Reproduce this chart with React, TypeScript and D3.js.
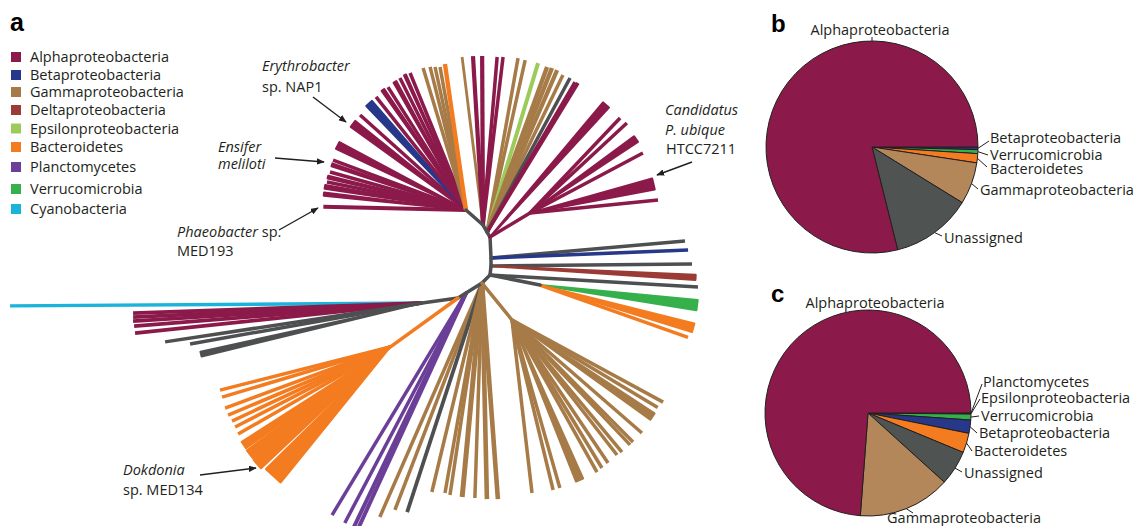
import React from "react";
import * as d3 from "d3";

// ---------- legend / taxa ----------
const taxa = [
  "Alphaproteobacteria",
  "Betaproteobacteria",
  "Gammaproteobacteria",
  "Deltaproteobacteria",
  "Epsilonproteobacteria",
  "Bacteroidetes",
  "Planctomycetes",
  "Verrucomicrobia",
  "Cyanobacteria",
];
const taxonCodes = ["A", "B", "G", "D", "E", "Ba", "P", "V", "C"];
const taxonColors = ["#8b1a4b", "#27378a", "#a67b47", "#9b3b36", "#9dcb5b", "#f47c20", "#6b3f98", "#35b04b", "#1ab3d9"];
const unassignedColor = "#4d4f50";
const pieGammaColor = "#b4875a";
const pieUnassignedColor = "#4f5452";

// ---------- tree (radial, unrooted) ----------
// node rows: [id, parent, direction (deg, clockwise from east), branch length, branch taxon]
type NodeRow = [string, string, number, number, string];
const treeNodes: NodeRow[] = [
  ["n2", "n1", 41.4, 22.7, "U"],
  ["n3", "n2", 60.3, 8.1, "U"],
  ["n4", "n3", 59, 5.8, "U"],
  ["n5", "n4", 87.3, 21, "U"],
  ["n6", "n5", 90, 8, "U"],
  ["n7", "n6", 96.3, 9.1, "U"],
  ["n8", "n7", 135, 11.3, "U"],
  ["n9", "n8", 148, 18.9, "U"],
  ["n10", "n9", 148, 9.4, "U"],
  ["n11", "n10", 172.1, 36.3, "U"],
  ["s1", "n4", 329, 46.6, "A"],
  ["v1", "n7", 11.3, 51, "U"],
  ["g2", "n8", 51, 47.6, "G"],
  ["o1", "n10", 144.2, 83.8, "Ba"],
];

// leaf rows: [taxon, direction (deg), branch length, wedge spread (deg), width]
type Leaf = [string, number, number, number?, number?];
const leavesN1: Leaf[] = [
  ["A", 181.3, 142.7, 0, 4.2],
  ["A", 186.4, 142.9, 1.2],
  ["A", 189.3, 142.9, 1.5],
  ["A", 191.4, 141.8],
  ["A", 193.4, 141.9, 1],
  ["A", 195.6, 141.2],
  ["A", 198.6, 141.4, 1.2],
  ["A", 200.6, 142],
  ["A", 206.7, 143.6, 3],
  ["A", 217.3, 142, 3],
  ["A", 221.9, 142.3],
  ["B", 227.7, 144, 3],
  ["A", 231.5, 144.5],
  ["A", 235.3, 145.9, 1.2],
  ["A", 237.6, 145.6],
  ["A", 241, 146.4, 1.2],
  ["A", 243.4, 147.6],
  ["A", 245.7, 148.1, 0.8],
  ["A", 247.8, 148],
  ["G", 253.2, 148.4],
  ["G", 255.9, 147.5],
  ["G", 257.8, 146.3],
  ["G", 259.7, 145.3],
  ["Ba", 261.8, 147.5, 0, 4.4],
];
const leavesN2: Leaf[] = [
  ["G", 262.9, 169.3, 0, 2.8],
  ["A", 266.6, 169.3, 0, 4.2],
  ["A", 269.7, 169, 0, 4.2],
  ["A", 274.8, 168.6],
  ["A", 276.8, 169.2],
];
const leavesN3: Leaf[] = [
  ["G", 280.1, 176.7],
  ["G", 282.5, 176.1],
  ["E", 286.8, 176.5, 0, 4],
  ["G", 290, 175.6, 0, 4.4],
  ["G", 291.6, 176.4, 0, 4.4],
  ["G", 293.4, 176.5, 0, 4.2],
  ["G", 295.8, 174.4],
  ["U", 298.3, 175],
  ["A", 300.4, 173.9],
  ["A", 301.4, 174.6],
];
const leavesN4: Leaf[] = [["A", 311.3, 175.7, 2.5]];
const leavesS1: Leaf[] = [
  ["A", 313.5, 130.9],
  ["A", 317.1, 132.3],
  ["A", 325.1, 129.3, 3],
  ["A", 332, 127.9],
  ["A", 346.8, 126.9, 5],
  ["A", 354.2, 128.7],
];
const leavesN5: Leaf[] = [
  ["U", 355, 194.7],
  ["B", 357.7, 197.2],
];
const leavesN6: Leaf[] = [
  ["U", 359.4, 201],
  ["D", 3.2, 204.8, 1.4],
];
const leavesN7: Leaf[] = [["U", 3.3, 208.3]];
const leavesV1: Leaf[] = [
  ["V", 7.3, 158.3, 3.6],
  ["Ba", 15.6, 159, 3.2],
  ["Ba", 19.5, 157],
];
const leavesN8: Leaf[] = [
  ["G", 113.6, 255.3],
  ["G", 111, 243.1],
  ["U", 108.1, 241, 0, 3.8],
  ["G", 103.5, 214.9],
  ["G", 100, 213.2],
  ["G", 98.6, 214.4],
  ["G", 95.3, 214.9, 0, 5],
  ["G", 91.9, 215.1],
  ["G", 88.7, 216.1, 0, 4.6],
  ["G", 85.8, 216.6, 0, 4.6],
];
const leavesG2: Leaf[] = [
  ["G", 83.4, 174.2],
  ["G", 76.4, 174.9],
  ["G", 74.1, 174.7],
  ["G", 67.1, 173.7, 2.5],
  ["G", 60.8, 174.2],
  ["G", 58.7, 173.2],
  ["G", 56.1, 172.2],
  ["G", 52.1, 171],
  ["G", 50.2, 171.8],
  ["G", 46.6, 171.9],
  ["G", 45.2, 171.8],
  ["G", 41, 172.2],
  ["G", 34.5, 170.4, 2.5],
  ["G", 31, 170],
  ["G", 28.5, 172],
];
const leavesN9: Leaf[] = [
  ["P", 121.1, 259.3],
  ["P", 117.8, 259.9],
  ["P", 115.6, 262, 0, 4],
  ["P", 114.6, 262, 0, 4],
];
const leavesN11: Leaf[] = [
  ["C", 179.6, 412, 0, 3.4],
  ["A", 178, 289.2, 0, 3.7],
  ["A", 177.2, 289.3, 0, 3.7],
  ["A", 176.4, 289.6, 0, 3.7],
  ["A", 175.4, 288.9, 0, 3.7],
  ["A", 174, 288.6, 0, 3.7],
  ["U", 171.4, 259.9],
  ["U", 170, 235.6],
  ["U", 167, 226.8, 1.2],
];
const leavesO1: Leaf[] = [
  ["Ba", 165.8, 175.4],
  ["Ba", 163.4, 175.3],
  ["Ba", 159.7, 175.9],
  ["Ba", 157.2, 175.7],
  ["Ba", 154.9, 174.5],
  ["Ba", 152.7, 174.4],
  ["Ba", 150.2, 175.1],
  ["Ba", 146.2, 176, 2.4],
  ["Ba", 142.6, 176.5, 3.2],
  ["Ba", 138.6, 177, 3.6],
  ["Ba", 132.2, 174, 6.5],
];
const leafGroups: [string, Leaf[]][] = [
  ["n1", leavesN1],
  ["n2", leavesN2],
  ["n3", leavesN3],
  ["n4", leavesN4],
  ["s1", leavesS1],
  ["n5", leavesN5],
  ["n6", leavesN6],
  ["n7", leavesN7],
  ["v1", leavesV1],
  ["n8", leavesN8],
  ["g2", leavesG2],
  ["n9", leavesN9],
  ["n11", leavesN11],
  ["o1", leavesO1],
];

// ---------- pies ----------
const pieBNames = ["Betaproteobacteria", "Verrucomicrobia", "Bacteroidetes", "Gammaproteobacteria", "Unassigned", "Alphaproteobacteria"];
const pieBValues = [0.4, 0.6, 1.4, 6.4, 12.3, 78.9];
const pieCNames = [
  "Planctomycetes",
  "Epsilonproteobacteria",
  "Verrucomicrobia",
  "Betaproteobacteria",
  "Bacteroidetes",
  "Unassigned",
  "Gammaproteobacteria",
  "Alphaproteobacteria",
];
const pieCValues = [0.08, 0.09, 0.92, 2.08, 3.08, 5.47, 14.47, 73.81];

const FONT = "'Open Sans', 'Noto Sans', sans-serif";
const INK = "#231f20";

function colorOf(code: string): string {
  if (code === "U") return unassignedColor;
  return taxonColors[taxonCodes.indexOf(code)];
}
function pieColor(name: string): string {
  if (name === "Unassigned") return pieUnassignedColor;
  if (name === "Gammaproteobacteria") return pieGammaColor;
  return taxonColors[taxa.indexOf(name)];
}

type LabelSpec = { text: string; x: number; y: number; lx: number; ly: number; anchor?: string; top?: boolean };

function Pie({ cx, cy, r, names, values, labels }: { cx: number; cy: number; r: number; names: string[]; values: number[]; labels: LabelSpec[] }) {
  const pie = d3
    .pie<number>()
    .sort(null)
    .value((d) => d)
    .startAngle(Math.PI / 2)
    .endAngle(Math.PI / 2 + 2 * Math.PI);
  const arcs = pie(values);
  const arc = d3.arc<d3.PieArcDatum<number>>().innerRadius(0).outerRadius(r);
  return (
    <g>
      <g transform={`translate(${cx},${cy})`}>
        {arcs.map((a, i) => (
          <path key={i} d={arc(a) || ""} fill={pieColor(names[i])} stroke={INK} strokeWidth={1} strokeLinejoin="round" />
        ))}
      </g>
      {labels.map((lb, i) => {
        const idx = names.indexOf(lb.text);
        const a = arcs[idx];
        const mid = lb.top ? 0 : (a.startAngle + a.endAngle) / 2;
        const sx = cx + r * Math.sin(mid);
        const sy = cy - r * Math.cos(mid);
        return (
          <g key={i}>
            <line x1={sx} y1={sy} x2={lb.lx} y2={lb.ly} stroke={INK} strokeWidth={1} />
            <text x={lb.x} y={lb.y} textAnchor={lb.anchor || "start"} fontFamily={FONT} fontSize={14.5} fill={INK}>
              {lb.text}
            </text>
          </g>
        );
      })}
    </g>
  );
}

export default function App() {
  const W = 1135;
  const H = 526;
  const len = d3.scaleLinear().domain([0, 100]).range([0, 100]);
  const origin = { x: 466, y: 210 };
  const pos = new Map<string, { x: number; y: number }>();
  pos.set("n1", origin);
  const rad = (deg: number) => (deg * Math.PI) / 180;
  for (const [id, parent, ang, l] of treeNodes) {
    const p = pos.get(parent)!;
    pos.set(id, { x: p.x + len(l) * Math.cos(rad(ang)), y: p.y + len(l) * Math.sin(rad(ang)) });
  }
  const tip = (p: { x: number; y: number }, ang: number, l: number) => [p.x + len(l) * Math.cos(rad(ang)), p.y + len(l) * Math.sin(rad(ang))] as [number, number];
  const poly = d3.line().curve(d3.curveLinearClosed);

  const leafEls: React.ReactNode[] = [];
  leafGroups.forEach(([node, leaves], gi) => {
    const p = pos.get(node)!;
    leaves.forEach(([code, ang, l, spread = 0, width = 3.5], li) => {
      const c = colorOf(code);
      const key = `${gi}-${li}`;
      if (spread > 0) {
        const a = tip(p, ang - spread / 2, l);
        const b = tip(p, ang + spread / 2, l);
        leafEls.push(<path key={key} d={poly([[p.x, p.y], a, b]) || ""} fill={c} stroke={c} strokeWidth={2.2} strokeLinejoin="round" />);
      } else {
        const t = tip(p, ang, l);
        leafEls.push(<line key={key} x1={p.x} y1={p.y} x2={t[0]} y2={t[1]} stroke={c} strokeWidth={width} />);
      }
    });
  });
  const branchEls = treeNodes.map(([id, parent, , , code]) => {
    const a = pos.get(parent)!;
    const b = pos.get(id)!;
    return <line key={id} x1={a.x} y1={a.y} x2={b.x} y2={b.y} stroke={colorOf(code)} strokeWidth={3.5} strokeLinecap="round" />;
  });

  const legendRows = [57, 75, 92, 110, 128.5, 147, 167, 189, 209];

  const arrows: [number, number, number, number][] = [
    [313, 97, 346, 122],
    [275, 158, 324, 162],
    [279, 230, 318, 208],
    [692, 162, 657, 175],
    [200, 475, 256, 468],
  ];

  const pieBLabels: LabelSpec[] = [
    { text: "Alphaproteobacteria", x: 880, y: 35, lx: 872, ly: 37, anchor: "middle", top: true },
    { text: "Betaproteobacteria", x: 990, y: 143, lx: 989, ly: 141 },
    { text: "Verrucomicrobia", x: 990, y: 160, lx: 988, ly: 155 },
    { text: "Bacteroidetes", x: 990, y: 173.5, lx: 987, ly: 167 },
    { text: "Gammaproteobacteria", x: 980, y: 195, lx: 978, ly: 189 },
    { text: "Unassigned", x: 944, y: 243, lx: 942, ly: 236 },
  ];
  const pieCLabels: LabelSpec[] = [
    { text: "Alphaproteobacteria", x: 875, y: 308, lx: 868, ly: 311, anchor: "middle", top: true },
    { text: "Planctomycetes", x: 983, y: 387, lx: 982, ly: 384 },
    { text: "Epsilonproteobacteria", x: 981, y: 403, lx: 980, ly: 399 },
    { text: "Verrucomicrobia", x: 981, y: 421, lx: 979, ly: 416 },
    { text: "Betaproteobacteria", x: 979, y: 438, lx: 977, ly: 433 },
    { text: "Bacteroidetes", x: 974, y: 456, lx: 972, ly: 451 },
    { text: "Unassigned", x: 964, y: 478, lx: 962, ly: 472 },
    { text: "Gammaproteobacteria", x: 964, y: 523, lx: 913, ly: 513, anchor: "middle" },
  ];

  const txt = { fontFamily: FONT, fontSize: 14.5, fill: INK } as const;

  return (
    <svg width={W} height={H} viewBox={`0 0 ${W} ${H}`} style={{ position: "absolute", left: 0, top: 0, background: "#fff" }}>
      <defs>
        <marker id="ah" viewBox="0 0 10 8" refX="9" refY="4" markerWidth="8" markerHeight="6.4" markerUnits="userSpaceOnUse" orient="auto">
          <path d="M0,0 L10,4 L0,8 z" fill={INK} />
        </marker>
      </defs>

      {/* panel letters */}
      <text x={10} y={31} fontFamily="'Liberation Sans', Arial, sans-serif" fontWeight="bold" fontSize={25} fill="#000">a</text>
      <text x={771} y={31.5} fontFamily="'Liberation Sans', Arial, sans-serif" fontWeight="bold" fontSize={24} fill="#000">b</text>
      <text x={771} y={301.5} fontFamily="'Liberation Sans', Arial, sans-serif" fontWeight="bold" fontSize={24} fill="#000">c</text>

      {/* legend */}
      {taxa.map((t, i) => (
        <g key={t}>
          <rect x={11} y={legendRows[i] - 5} width={10} height={10} fill={taxonColors[i]} />
          <text x={30} y={legendRows[i] + 5} {...txt}>{t}</text>
        </g>
      ))}

      {/* tree */}
      <g>{leafEls}</g>
      <g>{branchEls}</g>

      {/* tree annotations */}
      <text x={262} y={71} {...txt} fontStyle="italic">Erythrobacter</text>
      <text x={262} y={92} {...txt}>sp. NAP1</text>
      <text x={218} y={151.5} {...txt} fontStyle="italic">Ensifer</text>
      <text x={218} y={168.5} {...txt} fontStyle="italic">meliloti</text>
      <text x={177} y={237} {...txt}>
        <tspan fontStyle="italic">Phaeobacter</tspan> sp.
      </text>
      <text x={177} y={256} {...txt}>MED193</text>
      <text x={665} y={115} {...txt} fontStyle="italic">Candidatus</text>
      <text x={665} y={135} {...txt} fontStyle="italic">P. ubique</text>
      <text x={666} y={154} {...txt}>HTCC7211</text>
      <text x={123} y={475} {...txt} fontStyle="italic">Dokdonia</text>
      <text x={123} y={495} {...txt}>sp. MED134</text>
      {arrows.map(([x1, y1, x2, y2], i) => (
        <line key={i} x1={x1} y1={y1} x2={x2} y2={y2} stroke={INK} strokeWidth={1.4} markerEnd="url(#ah)" />
      ))}

      {/* pies */}
      <Pie cx={872} cy={147} r={106} names={pieBNames} values={pieBValues} labels={pieBLabels} />
      <Pie cx={868} cy={413} r={103} names={pieCNames} values={pieCValues} labels={pieCLabels} />
    </svg>
  );
}
